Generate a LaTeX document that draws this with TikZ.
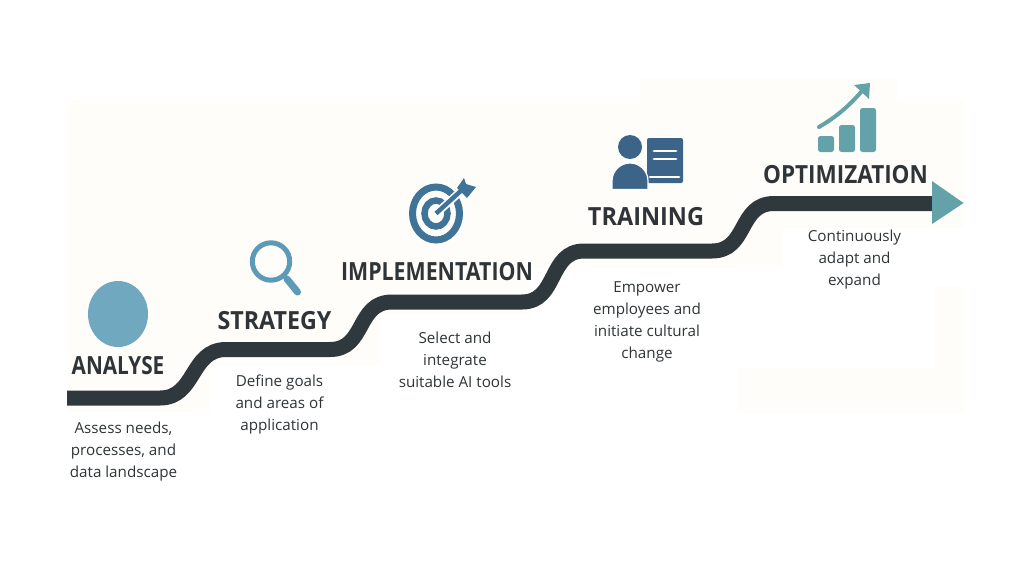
\documentclass[tikz,border=0pt]{standalone}
\usepackage{fontspec}
\setmainfont{Open Sans}
\usetikzlibrary{calc,positioning}
\definecolor{trackgray}{HTML}{2F383C}
\definecolor{textgray}{HTML}{2E3437}
\definecolor{creamback}{HTML}{FFFDFA}
\definecolor{paleblue}{HTML}{6FA8BF}
\definecolor{lensblue}{HTML}{5C9AB8}
\definecolor{targetblue}{HTML}{3F7398}
\definecolor{personblue}{HTML}{3C6488}
\definecolor{chartteal}{HTML}{62A2A8}

\begin{document}
\begin{tikzpicture}[x=1pt,y=-1pt]
        \tikzstyle{headnode} = [inner sep = 0pt, text=textgray, font=\fontsize{25}{25}\selectfont\bfseries]
        \tikzstyle{descnode} = [inner sep = 0pt, text=textgray, align=center, font=\fontsize{15.2}{22}\selectfont]
        \tikzstyle{track} = [draw=trackgray, line width=15pt]

        \useasboundingbox (0,0) rectangle (1024,576);

        % faint patches behind the picture
        \fill[creamback] (67,100) -- (965,100) -- (965,228) -- (783,228) -- (783,268) -- (530,268) -- (530,315) -- (380,315) -- (380,365) -- (210,365) -- (210,412) -- (67,412) -- cycle;
        \fill[creamback] (737,368) -- (935,368) -- (935,287) -- (965,287) -- (965,413) -- (737,413) -- cycle;
        \fill[creamback] (640,78) rectangle (897,100);

        % track
        \coordinate (t0) at (67,398);
        \coordinate (t1) at (160,398);
        \coordinate (t2) at (226,349.5);
        \coordinate (t3) at (330,349.5);
        \coordinate (t4) at (392,302);
        \coordinate (t5) at (522,302);
        \coordinate (t6) at (584,251);
        \coordinate (t7) at (712,251);
        \coordinate (t8) at (774,203.5);
        \coordinate (t9) at (933,203.5);
        \draw[track] (t0) -- (t1) .. controls (196,398) and (190,349.5) .. (t2) -- (t3)
          .. controls (366,349.5) and (356,302) .. (t4) -- (t5)
          .. controls (558,302) and (548,251) .. (t6) -- (t7)
          .. controls (748,251) and (738,203.5) .. (t8) -- (t9);
        \fill[chartteal] (932,181) -- (963.5,203) -- (932,224) -- cycle;

        % analyse
        \fill[paleblue] (118,314) ellipse (30 and 33);
        \node[headnode] (analyse) at (118,366) {\scalebox{.83}[1]{ANALYSE}};
        \node[descnode] (analysetxt) at (123.5,452) {Assess needs,\\processes, and\\data landscape};

        % strategy
        \coordinate (lens) at (271,261.5);
        \draw[lensblue, line width=5pt] (lens) circle (18.7);
        \draw[lensblue, line width=7pt, line cap=round] (287,279) -- (297.5,292);
        \node[headnode] (strategy) at (274.5,321) {\scalebox{.93}[1]{STRATEGY}};
        \node[descnode] (strategytxt) at (279.5,405) {Define goals\\and areas of\\application};

        % implementation
        \coordinate (target) at (436,213.5);
        \draw[targetblue, line width=7pt] (target) ellipse (23.5 and 26.5);
        \draw[targetblue, line width=6.5pt] (target) ellipse (11.5 and 13);
        \draw[white, line width=8pt] (target) -- (470,183);
        \draw[targetblue, line width=4.5pt] (target) -- (464,188);
        \fill[targetblue] (457,188) -- (464,178) -- (466,184) -- (476,187) -- (467,198) -- (462,193) -- cycle;
        \node[headnode] (implementation) at (437,272) {\scalebox{.853}[1]{IMPLEMENTATION}};
        \node[descnode] (implementationtxt) at (455,360) {Select and\\integrate\\suitable AI tools};

        % training
        \fill[personblue, rounded corners=2pt] (647,138) rectangle (683,183);
        \fill[personblue] (630,147) circle (12);
        \fill[personblue, draw=white, line width=1.2pt] (612,189.5) -- (612,181) arc (180:360:18) -- (648,189.5) -- cycle;
        \draw[white, line width=2.8pt, line cap=round] (654,151) -- (676,151);
        \draw[white, line width=2.8pt, line cap=round] (654,159) -- (676,159);
        \draw[white, line width=2.8pt, line cap=round] (650,177) -- (679,177);
        \node[headnode] (training) at (646,217) {\scalebox{.94}[1]{TRAINING}};
        \node[descnode] (trainingtxt) at (647,322) {Empower\\employees and\\initiate cultural\\change};

        % optimization
        \fill[chartteal, rounded corners=2.5pt] (818,136) rectangle (834,152);
        \fill[chartteal, rounded corners=2.5pt] (839,125) rectangle (855,152);
        \fill[chartteal, rounded corners=2.5pt] (860,108) rectangle (876,152);
        \draw[chartteal, line width=4pt, line cap=round] (819,127) .. controls (836,117) and (848,107) .. (862,91);
        \fill[chartteal] (854,85) -- (870,83) -- (869,99) -- cycle;
        \node[headnode] (optimization) at (845.5,175) {\scalebox{.9}[1]{OPTIMIZATION}};
        \node[descnode] (optimizationtxt) at (854.5,260) {Continuously\\adapt and\\expand};
      \end{tikzpicture}
\end{document}
